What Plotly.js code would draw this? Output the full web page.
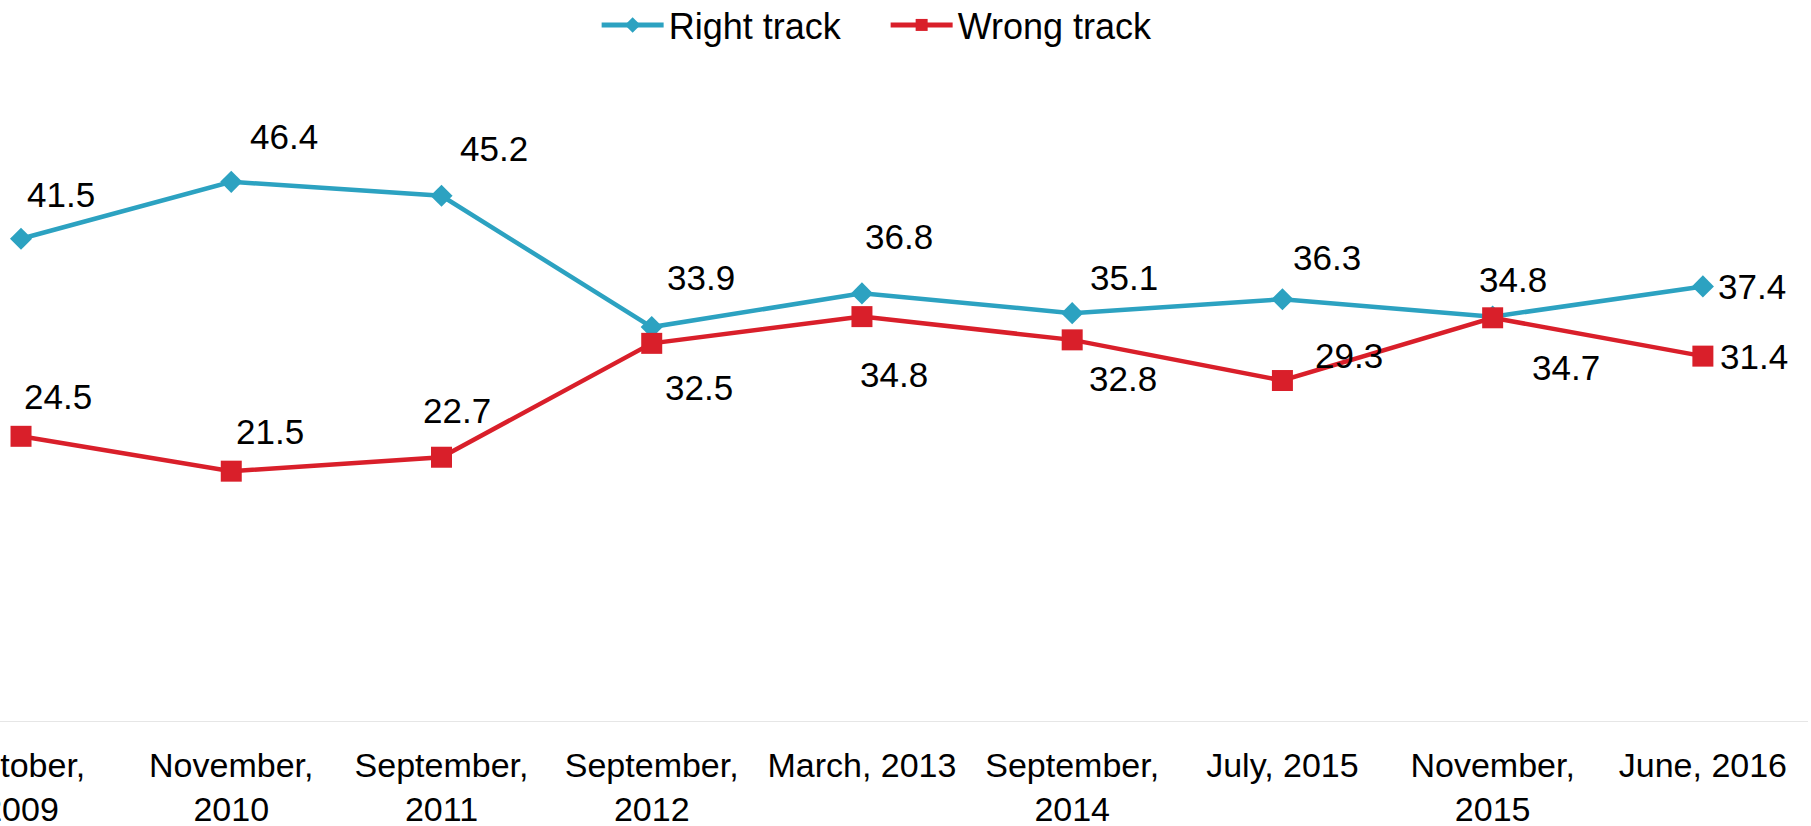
<!DOCTYPE html>
<html>
<head>
<meta charset="utf-8">
<script src="https://cdn.plot.ly/plotly-3.0.1.min.js"></script>
<style>
  html, body { margin: 0; padding: 0; background: #ffffff; }
  #chart { width: 1811px; height: 826px; }
</style>
</head>
<body>
<div id="chart"></div>
<script>
// ---- data ----
const categories = [
  "October,<br>2009", "November,<br>2010", "September,<br>2011", "September,<br>2012",
  "March, 2013", "September,<br>2014", "July, 2015", "November,<br>2015", "June, 2016"
];
const rightTrack = [41.5, 46.4, 45.2, 33.9, 36.8, 35.1, 36.3, 34.8, 37.4];
const wrongTrack = [24.5, 21.5, 22.7, 32.5, 34.8, 32.8, 29.3, 34.7, 31.4];
const rightLabels = ["41.5", "46.4", "45.2", "33.9", "36.8", "35.1", "36.3", "34.8", "37.4"];
const wrongLabels = ["24.5", "21.5", "22.7", "32.5", "34.8", "32.8", "29.3", "34.7", "31.4"];

// ---- label offsets (pixels, dx right, dy down) ----
const rightOffsets = [[40,-44],[53,-45],[53,-47],[49,-50],[37,-57],[52,-36],[45,-42],[20,-37],[49,0]];
const wrongOffsets = [[37,-40],[39,-40],[16,-47],[47,44],[32,58],[51,39],[67,-25],[73,50],[51,0]];

const blue = "#2CA2C1";
const red = "#D91F2A";
const FONT = "Liberation Sans, Arial, Helvetica, sans-serif";

const traces = [
  {
    type: "scatter", mode: "lines+markers", name: "Right track",
    x: categories, y: rightTrack,
    line: {color: blue, width: 4.5},
    marker: {symbol: "diamond", size: 17, color: blue},
    hoverinfo: "x+y"
  },
  {
    type: "scatter", mode: "lines+markers", name: "Wrong track",
    x: categories, y: wrongTrack,
    line: {color: red, width: 4.5},
    marker: {symbol: "square", size: 21, color: red},
    hoverinfo: "x+y"
  }
];

const annotations = [];
function addLabels(vals, labels, offs) {
  vals.forEach((v, i) => {
    annotations.push({
      x: categories[i], y: v, xref: "x", yref: "y",
      text: labels[i], showarrow: false,
      xanchor: "center", yanchor: "middle",
      xshift: offs[i][0], yshift: -offs[i][1],
      font: {family: FONT, size: 35, color: "#000000"}
    });
  });
}
addLabels(rightTrack, rightLabels, rightOffsets);
addLabels(wrongTrack, wrongLabels, wrongOffsets);

const layout = {
  width: 1811, height: 826,
  margin: {l: 0, r: 3, t: 140, b: 105},
  paper_bgcolor: "#ffffff", plot_bgcolor: "#ffffff",
  font: {family: FONT, size: 36, color: "#000000"},
  showlegend: true,
  legend: {
    orientation: "h", x: 0.33, xanchor: "left",
    y: 0.9697, yref: "container", yanchor: "middle",
    font: {family: FONT, size: 36, color: "#000000"},
    bgcolor: "rgba(0,0,0,0)", itemsizing: "constant", itemwidth: 62,
    entrywidth: 212, entrywidthmode: "pixels",
    traceorder: "normal"
  },
  xaxis: {
    type: "category", range: [-0.1, 8.5],
    showgrid: false, zeroline: false,
    showline: true, linecolor: "#e6e6e6", linewidth: 1,
    ticks: "", ticklabelstandoff: 14,
    tickfont: {family: FONT, size: 34, color: "#000000"},
    fixedrange: true
  },
  yaxis: {
    range: [0, 50], visible: false, showgrid: false, zeroline: false, fixedrange: true
  },
  annotations: annotations
};

Plotly.newPlot("chart", traces, layout, {displayModeBar: false, staticPlot: true});
</script>
</body>
</html>
